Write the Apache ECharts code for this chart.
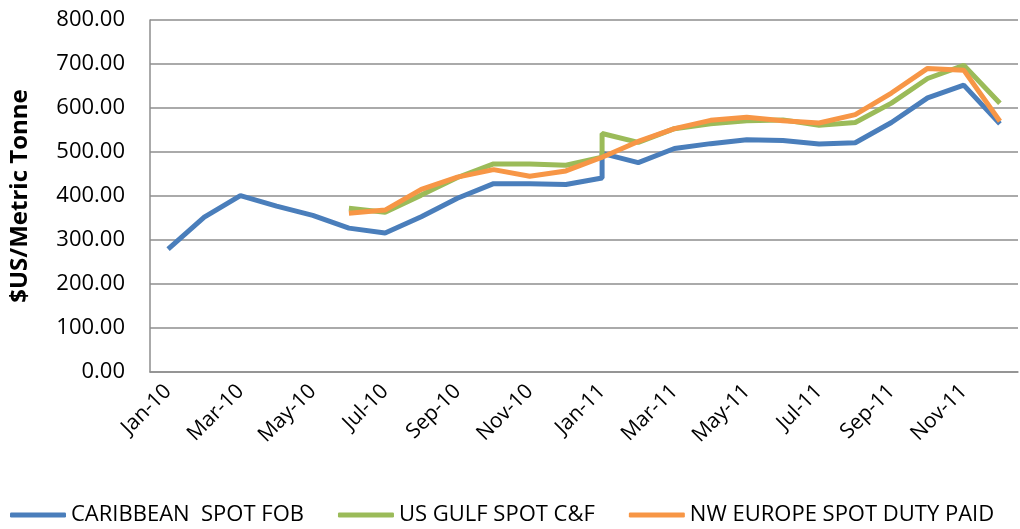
<!DOCTYPE html>
<html>
<head>
<meta charset="utf-8">
<script src="https://cdn.jsdelivr.net/npm/echarts@6/dist/echarts.min.js"></script>
<style>
  html, body { margin: 0; padding: 0; background: #fff; }
  #chart { width: 1020px; height: 529px; }
</style>
</head>
<body>
<div id="chart"></div>
<script>
const months = ['Jan-10', 'Feb-10', 'Mar-10', 'Apr-10', 'May-10', 'Jun-10', 'Jul-10', 'Aug-10', 'Sep-10', 'Oct-10', 'Nov-10', 'Dec-10',
                'Jan-11', 'Feb-11', 'Mar-11', 'Apr-11', 'May-11', 'Jun-11', 'Jul-11', 'Aug-11', 'Sep-11', 'Oct-11', 'Nov-11', 'Dec-11']
// a month with two readings is written [first, second]
const caribbean = [279, 352, 401, 377, 356, 327, 316, 353, 395, 428, 428, 426,
                   [441, 497], 476, 508, 519, 528, 526, 518, 521, 567, 623, 652, 564]
const usGulf = [null, null, null, null, null, 372, 363, 402, 442, 473, 473, 470,
                [488, 542], 522, 553, 564, 571, 573, 561, 567, 611, 667, 697, 611]
const nwEurope = [null, null, null, null, null, 361, 368, 415, 443, 460, 445, 457,
                  488, 524, 553, 572, 579, 571, 566, 585, 634, 690, 686, 570]

function toPoints(vals) {
    let pts = []
    vals.forEach((v, i) => {
        if (v == null) return
        ;[].concat(v).forEach(y => pts.push([i, y]))
    })
    return pts
}

const font = '"Open Sans", "Noto Sans", sans-serif'
var myChart = echarts.init(document.getElementById('chart'))
let option = {
    animation: false,
    textStyle: { fontFamily: font },
    grid: { left: 143, right: 2, top: 20, bottom: 157 },
    legend: {
        bottom: 3,
        left: 10,
        width: 1010,
        padding: 0,
        icon: 'roundRect',
        itemWidth: 56,
        itemHeight: 5,
        itemGap: 34,
        textStyle: { fontSize: 22, color: '#000', fontFamily: font, padding: [0, 0, 0, 0] },
        data: ['CARIBBEAN  SPOT FOB', 'US GULF SPOT C&F', 'NW EUROPE SPOT DUTY PAID']
    },
    xAxis: {
        type: 'category',
        data: months,
        boundaryGap: true,
        axisLine: { lineStyle: { color: '#8e8e8e', width: 1.5 } },
        axisTick: { show: false },
        axisLabel: { interval: 1, rotate: 45, fontSize: 21, color: '#000', margin: 16 }
    },
    yAxis: {
        type: 'value',
        min: 0,
        max: 800,
        interval: 100,
        name: '$US/Metric Tonne',
        nameLocation: 'middle',
        nameGap: 118,
        nameTextStyle: { fontSize: 24, fontWeight: 'bold', color: '#000' },
        axisLine: { show: true, lineStyle: { color: '#8e8e8e', width: 1.5 } },
        axisLabel: { fontSize: 22, color: '#000', margin: 25, formatter: v => v.toFixed(2) },
        splitLine: { lineStyle: { color: '#8e8e8e', width: 1.5 } }
    },
    series: [
        {
            name: 'CARIBBEAN  SPOT FOB',
            type: 'line',
            showSymbol: false,
            color: '#4a7ebb',
            lineStyle: { width: 5 },
            data: toPoints(caribbean)
        },
        {
            name: 'US GULF SPOT C&F',
            type: 'line',
            showSymbol: false,
            color: '#9bbb59',
            lineStyle: { width: 5 },
            data: toPoints(usGulf)
        },
        {
            name: 'NW EUROPE SPOT DUTY PAID',
            type: 'line',
            showSymbol: false,
            color: '#f79646',
            lineStyle: { width: 5 },
            data: toPoints(nwEurope)
        }
    ]
}
option && myChart.setOption(option)
</script>
</body>
</html>
